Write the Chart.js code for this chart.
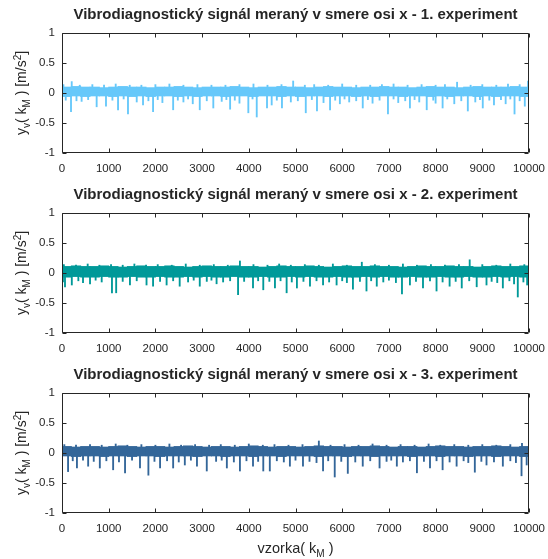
<!DOCTYPE html>
<html>
<head>
<meta charset="utf-8">
<script src="https://cdn.jsdelivr.net/npm/chart.js@4.4.0/dist/chart.umd.min.js"></script>
<style>
body{margin:0;background:#fff;}
canvas{display:block;}
</style>
</head>
<body>
<canvas id="c1" width="548" height="180"></canvas>
<canvas id="c2" width="548" height="180"></canvas>
<canvas id="c3" width="548" height="199"></canvas>
<script>
// --- data ---
var titles = [
  "Vibrodiagnostický signál meraný v smere osi x - 1. experiment",
  "Vibrodiagnostický signál meraný v smere osi x - 2. experiment",
  "Vibrodiagnostický signál meraný v smere osi x - 3. experiment"
];
var xTicks = [0,1000,2000,3000,4000,5000,6000,7000,8000,9000,10000];
var yTicks = [-1,-0.5,0,0.5,1];
var binSize = 200; // samples per band bin

// dense part of the signal (upper / lower edge per 200-sample bin)
var bandTop1 = [0.10,0.11,0.10,0.10,0.09,0.10,0.11,0.10,0.10,0.09,0.10,0.10,0.11,0.10,0.09,0.10,0.10,0.10,0.11,0.10,
                0.09,0.10,0.10,0.11,0.10,0.10,0.09,0.10,0.11,0.10,0.10,0.09,0.10,0.10,0.11,0.10,0.10,0.09,0.10,0.11,
                0.10,0.10,0.09,0.10,0.11,0.10,0.10,0.10,0.11,0.10];
var bandBot1 = [-0.06,-0.05,-0.06,-0.05,-0.05,-0.06,-0.05,-0.06,-0.05,-0.06,-0.05,-0.05,-0.06,-0.05,-0.06,-0.05,-0.05,-0.06,-0.05,-0.05,
                -0.06,-0.05,-0.05,-0.06,-0.05,-0.06,-0.05,-0.05,-0.06,-0.05,-0.05,-0.06,-0.05,-0.06,-0.05,-0.05,-0.06,-0.05,-0.05,-0.06,
                -0.05,-0.06,-0.05,-0.05,-0.06,-0.05,-0.06,-0.05,-0.05,-0.06];
var bandTop2 = [0.11,0.12,0.11,0.11,0.12,0.11,0.10,0.11,0.12,0.11,0.11,0.12,0.11,0.10,0.11,0.12,0.11,0.11,0.12,0.11,
                0.11,0.10,0.11,0.12,0.11,0.11,0.12,0.11,0.10,0.11,0.12,0.11,0.11,0.12,0.11,0.11,0.10,0.11,0.12,0.11,
                0.11,0.12,0.11,0.11,0.10,0.11,0.12,0.11,0.11,0.12];
var bandBot2 = [-0.07,-0.06,-0.07,-0.07,-0.06,-0.07,-0.07,-0.06,-0.07,-0.07,-0.06,-0.07,-0.07,-0.06,-0.07,-0.06,-0.07,-0.07,-0.06,-0.07,
                -0.07,-0.06,-0.07,-0.07,-0.06,-0.07,-0.06,-0.07,-0.07,-0.06,-0.07,-0.07,-0.06,-0.07,-0.06,-0.07,-0.07,-0.06,-0.07,-0.07,
                -0.06,-0.07,-0.07,-0.06,-0.07,-0.07,-0.06,-0.07,-0.06,-0.07];
var bandTop3 = [0.11,0.10,0.11,0.11,0.10,0.11,0.12,0.11,0.10,0.11,0.11,0.10,0.11,0.12,0.11,0.10,0.11,0.11,0.10,0.11,
                0.12,0.11,0.10,0.11,0.11,0.10,0.11,0.12,0.11,0.11,0.10,0.11,0.11,0.12,0.11,0.10,0.11,0.11,0.10,0.11,
                0.12,0.11,0.11,0.10,0.11,0.11,0.12,0.11,0.10,0.11];
var bandBot3 = [-0.05,-0.06,-0.05,-0.05,-0.06,-0.05,-0.05,-0.06,-0.05,-0.05,-0.06,-0.05,-0.05,-0.05,-0.06,-0.05,-0.05,-0.06,-0.05,-0.05,
                -0.06,-0.05,-0.05,-0.06,-0.05,-0.05,-0.05,-0.06,-0.05,-0.05,-0.06,-0.05,-0.05,-0.06,-0.05,-0.05,-0.05,-0.06,-0.05,-0.05,
                -0.06,-0.05,-0.05,-0.06,-0.05,-0.05,-0.06,-0.05,-0.05,-0.06];

// downward spikes: sample index and value
var spikeX1 = [80,193,310,420,560,742,942,1080,1200,1320,1413,1600,1735,1850,1950,2050,2150,2380,2480,2600,2700,2800,2950,3100,3240,3420,3520,3600,3700,3800,
               3990,4080,4170,4390,4490,4600,4710,4900,5050,5220,5350,5460,5600,5740,5850,5950,6050,6150,6300,6440,6550,6650,6800,6980,7100,7200,7350,7450,7550,7650,
               7810,7950,8000,8150,8250,8400,8550,8690,8850,8950,9010,9150,9250,9400,9500,9600,9690,9800,9910];
var spikeY1 = [-0.12,-0.31,-0.13,-0.14,-0.11,-0.23,-0.22,-0.12,-0.28,-0.10,-0.35,-0.15,-0.20,-0.13,-0.31,-0.11,-0.16,-0.28,-0.12,-0.15,-0.10,-0.18,-0.28,-0.13,-0.25,-0.14,-0.11,-0.27,-0.12,-0.17,
               -0.33,-0.10,-0.40,-0.25,-0.20,-0.12,-0.25,-0.15,-0.13,-0.33,-0.11,-0.30,-0.16,-0.28,-0.12,-0.18,-0.10,-0.15,-0.13,-0.25,-0.11,-0.17,-0.12,-0.35,-0.10,-0.16,-0.13,-0.25,-0.11,-0.15,
               -0.28,-0.12,-0.17,-0.25,-0.10,-0.18,-0.13,-0.30,-0.15,-0.11,-0.25,-0.12,-0.20,-0.11,-0.18,-0.10,-0.35,-0.13,-0.22];
var spikeX2 = [20,64,210,350,450,600,720,850,1070,1160,1300,1455,1600,1810,1950,2100,2240,2380,2520,2700,2820,2950,3100,3200,3310,3450,3600,3770,3900,4090,
               4200,4310,4440,4560,4680,4810,4920,5030,5170,5310,5450,5590,5720,5880,6000,6100,6230,6380,6520,6620,6740,6880,7000,7150,7280,7450,7580,7730,7880,8020,
               8150,8300,8430,8560,8720,8880,9090,9200,9320,9440,9580,9680,9760,9880,9960];
var spikeY2 = [-0.15,-0.23,-0.20,-0.13,-0.16,-0.18,-0.12,-0.15,-0.33,-0.33,-0.14,-0.20,-0.13,-0.20,-0.22,-0.14,-0.20,-0.13,-0.22,-0.15,-0.12,-0.22,-0.14,-0.12,-0.18,-0.15,-0.13,-0.36,-0.14,-0.25,
               -0.13,-0.28,-0.14,-0.25,-0.13,-0.33,-0.15,-0.25,-0.14,-0.22,-0.13,-0.20,-0.15,-0.20,-0.13,-0.16,-0.27,-0.14,-0.30,-0.13,-0.22,-0.15,-0.12,-0.16,-0.35,-0.20,-0.14,-0.25,-0.13,-0.30,
               -0.15,-0.22,-0.14,-0.25,-0.13,-0.23,-0.20,-0.14,-0.16,-0.25,-0.13,-0.18,-0.40,-0.15,-0.20];
var spikeX3 = [130,230,320,450,560,680,810,950,1095,1220,1350,1500,1670,1850,1980,2100,2250,2380,2500,2630,2760,2890,3100,3300,3420,3530,3680,3810,3950,4090,
               4200,4310,4450,4600,4750,4880,5000,5160,5300,5450,5590,5700,5840,5980,6120,6280,6440,6600,6800,6950,7050,7170,7300,7450,7600,7750,7880,8020,8150,8300,
               8450,8600,8700,8840,8980,9090,9250,9440,9600,9720,9840,9950];
var spikeY3 = [-0.31,-0.13,-0.25,-0.12,-0.22,-0.14,-0.25,-0.13,-0.28,-0.15,-0.33,-0.12,-0.25,-0.37,-0.14,-0.25,-0.13,-0.25,-0.15,-0.20,-0.12,-0.22,-0.30,-0.14,-0.12,-0.25,-0.15,-0.30,-0.13,-0.22,
               -0.14,-0.30,-0.30,-0.13,-0.15,-0.22,-0.12,-0.22,-0.14,-0.16,-0.30,-0.13,-0.40,-0.14,-0.34,-0.15,-0.22,-0.13,-0.25,-0.14,-0.12,-0.22,-0.15,-0.13,-0.33,-0.14,-0.25,-0.13,-0.28,-0.15,
               -0.22,-0.13,-0.16,-0.32,-0.14,-0.20,-0.15,-0.22,-0.13,-0.16,-0.38,-0.20];

// upward peaks above the dense part
var peakX1 = [30,208,380,650,900,1150,1450,1700,2000,2300,2600,2900,3200,3500,3800,4100,4400,4700,4950,5200,5400,5700,6000,6300,6600,6850,7100,7400,7700,8000,8200,8460,8750,9000,9300,9550,9800,9980];
var peakY1 = [0.14,0.19,0.13,0.14,0.13,0.15,0.13,0.13,0.14,0.15,0.13,0.14,0.13,0.13,0.14,0.15,0.13,0.14,0.20,0.13,0.14,0.13,0.15,0.13,0.13,0.14,0.15,0.13,0.14,0.13,0.14,0.18,0.13,0.14,0.13,0.15,0.14,0.20];
var peakX2 = [40,300,550,800,1050,1300,1550,1800,2050,2350,2650,2950,3250,3550,3810,4100,4400,4650,4900,5200,5500,5800,6100,6420,6700,7000,7300,7600,7900,8200,8500,8730,9000,9300,9600,9900];
var peakY2 = [0.14,0.13,0.15,0.13,0.14,0.13,0.15,0.13,0.14,0.13,0.15,0.13,0.14,0.13,0.20,0.14,0.13,0.15,0.13,0.14,0.13,0.15,0.13,0.18,0.14,0.13,0.15,0.13,0.14,0.13,0.14,0.22,0.14,0.13,0.15,0.14];
var peakX3 = [50,300,600,850,1150,1400,1700,2000,2300,2550,2850,3150,3400,3700,4000,4300,4550,4850,5150,5500,5750,6050,6350,6650,6950,7250,7550,7850,8100,8400,8700,9000,9300,9600,9850];
var peakY3 = [0.14,0.13,0.14,0.13,0.15,0.13,0.14,0.13,0.15,0.13,0.14,0.13,0.14,0.13,0.15,0.13,0.14,0.13,0.14,0.20,0.13,0.14,0.13,0.15,0.13,0.14,0.13,0.15,0.13,0.14,0.13,0.14,0.13,0.14,0.16];

var colors = ["#66c8fa", "#009999", "#336699"];
var INK = "#262626";
var FONT = "'Liberation Sans', Arial, Helvetica, sans-serif";

// draws a run of text pieces with sub/superscripts, centred on x=0
function richText(ctx, parts, size){
  var small = Math.round(size * 0.7);
  var w = 0;
  parts.forEach(function(p){
    ctx.font = (p.sub || p.sup ? small : size) + "px " + FONT;
    p.w = ctx.measureText(p.t).width;
    w += p.w;
  });
  var x = -w / 2;
  ctx.textAlign = "left";
  ctx.textBaseline = "alphabetic";
  parts.forEach(function(p){
    ctx.font = (p.sub || p.sup ? small : size) + "px " + FONT;
    var dy = p.sub ? 3.5 : (p.sup ? -5.5 : 0);
    ctx.fillText(p.t, x, dy);
    x += p.w;
  });
}

var yLabel = [{t:"y"},{t:"v",sub:true},{t:"( k"},{t:"M",sub:true},{t:" ) [m/s"},{t:"2",sup:true},{t:"]"}];
var xLabel = [{t:"vzorka( k"},{t:"M",sub:true},{t:" )"}];

var framePlugin = {
  id: "frame",
  afterDatasetsDraw: function(chart, args, opts){
    var a = chart.chartArea, ctx = chart.ctx;
    var xs = chart.scales.x, ys = chart.scales.y;
    var l = Math.round(a.left) + 0.5, r = Math.round(a.right) - 0.5;
    var t = Math.round(a.top) + 0.5, b = Math.round(a.bottom) - 0.5;
    ctx.save();
    ctx.strokeStyle = INK;
    ctx.lineWidth = 1;
    ctx.beginPath();
    ctx.rect(l, t, r - l, b - t);
    xs.ticks.forEach(function(tk){
      var p = Math.round(xs.getPixelForValue(tk.value)) + 0.5;
      ctx.moveTo(p, b); ctx.lineTo(p, b - 4);
      ctx.moveTo(p, t); ctx.lineTo(p, t + 4);
    });
    ys.ticks.forEach(function(tk){
      var p = Math.round(ys.getPixelForValue(tk.value)) + 0.5;
      ctx.moveTo(l, p); ctx.lineTo(l + 4, p);
      ctx.moveTo(r, p); ctx.lineTo(r - 4, p);
    });
    ctx.stroke();

    ctx.fillStyle = INK;
    ctx.save();
    ctx.translate(26, (a.top + a.bottom) / 2);
    ctx.rotate(-Math.PI / 2);
    richText(ctx, yLabel, 14);
    ctx.restore();

    if (opts.xlabel){
      ctx.save();
      ctx.translate((a.left + a.right) / 2, a.bottom + 40);
      richText(ctx, xLabel, 14.5);
      ctx.restore();
    }
    ctx.restore();
  }
};

function makeChart(id, k, band, bandLo, sx, sy, px, py, bottomPad, xlabel){
  var bandData = band.map(function(v, i){ return {x: (i + 0.5) * binSize, y: [bandLo[i], v]}; });
  var spikeData = sx.map(function(x, i){ return {x: x, y: [0, sy[i]]}; });
  var peakData = px.map(function(x, i){ return {x: x, y: [0, py[i]]}; });
  var col = colors[k];
  new Chart(document.getElementById(id).getContext("2d"), {
    type: "bar",
    data: {
      datasets: [
        {data: bandData, backgroundColor: col, barThickness: 9.6, borderWidth: 0, grouped: false},
        {data: spikeData, backgroundColor: col, barThickness: 1.2, borderWidth: 0, grouped: false},
        {data: peakData, backgroundColor: col, barThickness: 1.2, borderWidth: 0, grouped: false}
      ]
    },
    options: {
      responsive: false,
      animation: false,
      events: [],
      layout: {padding: {left: 0, right: 19, top: 0, bottom: 0}},
      plugins: {
        legend: {display: false},
        tooltip: {enabled: false},
        title: {
          display: true, text: titles[k], color: INK, fullSize: false,
          font: {family: FONT, size: 15, weight: "bold"},
          padding: {top: 6, bottom: 9}
        },
        frame: {xlabel: xlabel}
      },
      scales: {
        x: {
          type: "linear", min: 0, max: 10000, offset: false,
          grid: {display: false, drawTicks: false, offset: false},
          border: {display: false},
          afterBuildTicks: function(s){ s.ticks = xTicks.map(function(v){ return {value: v}; }); },
          afterFit: function(s){ s.height = bottomPad; s.paddingLeft = 0; s.paddingRight = 0; },
          ticks: {
            autoSkip: false, maxRotation: 0, padding: 9, color: INK,
            font: {family: FONT, size: 11.5},
            callback: function(v){ return String(v); }
          }
        },
        y: {
          min: -1, max: 1,
          grid: {display: false, drawTicks: false},
          border: {display: false},
          afterBuildTicks: function(s){ s.ticks = yTicks.map(function(v){ return {value: v}; }); },
          afterFit: function(s){ s.width = 62; s.paddingTop = 0; s.paddingBottom = 0; },
          ticks: {padding: 7, color: INK, font: {family: FONT, size: 11.5},
            callback: function(v){ return String(v); }}
        }
      }
    },
    plugins: [framePlugin]
  });
}

makeChart("c1", 0, bandTop1, bandBot1, spikeX1, spikeY1, peakX1, peakY1, 27, false);
makeChart("c2", 1, bandTop2, bandBot2, spikeX2, spikeY2, peakX2, peakY2, 27, false);
makeChart("c3", 2, bandTop3, bandBot3, spikeX3, spikeY3, peakX3, peakY3, 46, true);
</script>
</body>
</html>
